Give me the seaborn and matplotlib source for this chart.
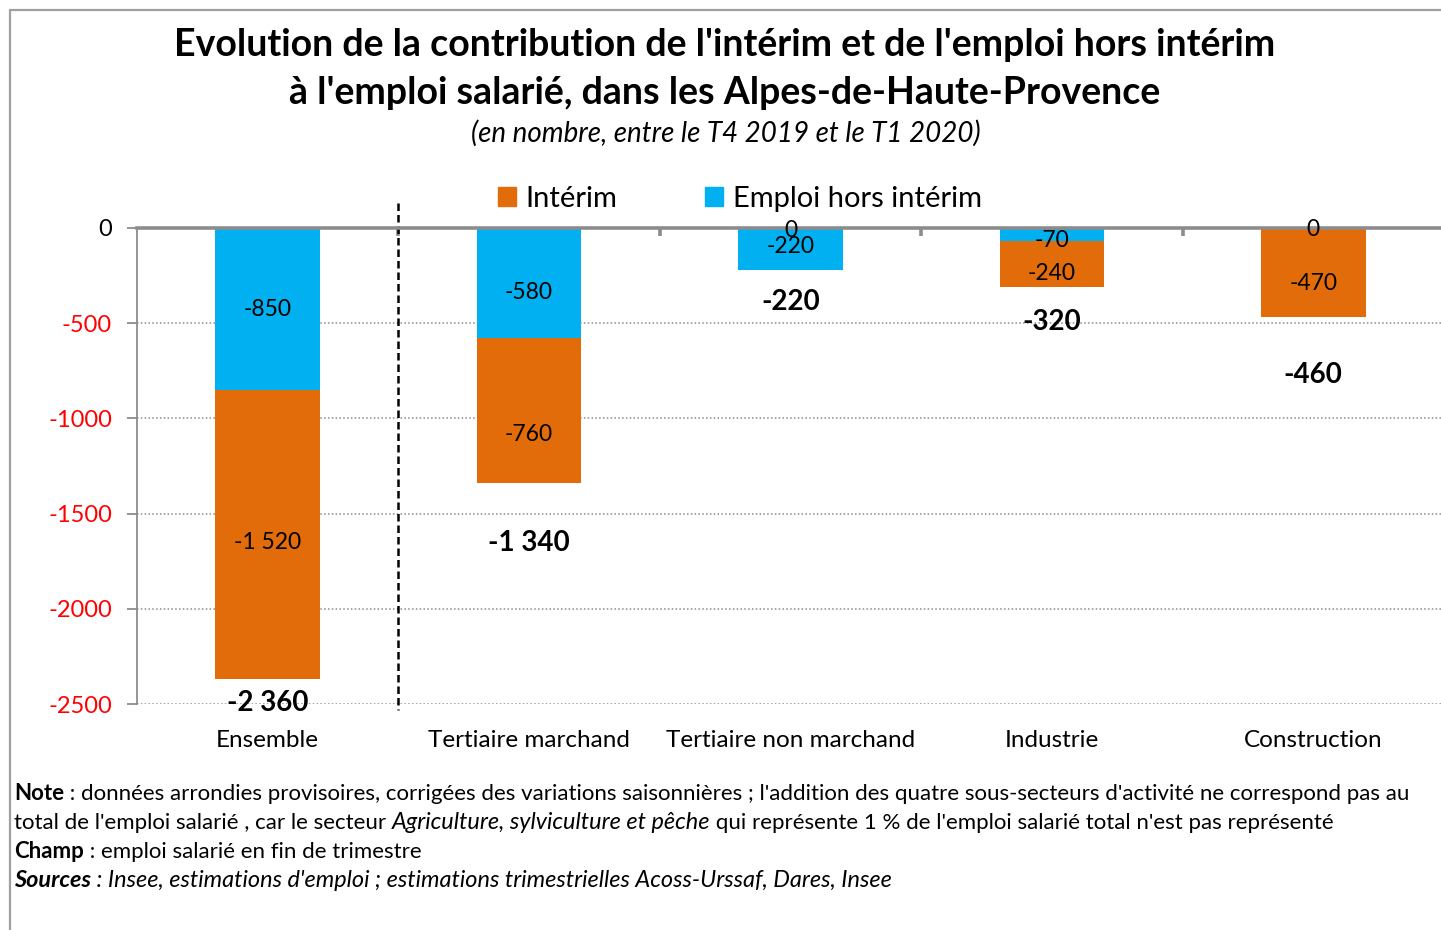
import numpy as np
import pandas as pd
import matplotlib.pyplot as plt
import seaborn as sns
from matplotlib.patches import Patch
from matplotlib.lines import Line2D

categories = ["Ensemble", "Tertiaire marchand", "Tertiaire non marchand", "Industrie", "Construction"]
interim = [-1520, -760, 0, -240, -470]
hors_interim = [-850, -580, -220, -70, 0]
totals = [-2360, -1340, -220, -320, -460]
y_ticks = [0, -500, -1000, -1500, -2000, -2500]

ORANGE = "#E36C0A"
BLUE = "#00B0F0"
GRAY = "#8C8C8C"

# label nudges in pixels (downward), as placed by hand in the original
hors_nudge = [1, 9, -2, 6, 1]
interim_nudge = [8, 24, -39, 9, 11]
total_nudge = [24, 60, 32, 35, 58]

W, H = 1441, 930


def fmt(v):
    return f"{v:,}".replace(",", " ")


sns.set_theme(style="white")
plt.rcParams["font.family"] = ["Lato", "DejaVu Sans"]
plt.rcParams["text.color"] = "black"

fig = plt.figure(figsize=(W / 100, H / 100), dpi=100)
ax = fig.add_axes([137 / W, 1 - 704 / H, (1444 - 137) / W, (704 - 228) / H])

df = pd.DataFrame({"secteur": categories, "interim": interim, "hors": hors_interim})
df["cumul"] = df["interim"] + df["hors"]

sns.barplot(data=df, x="secteur", y="cumul", color=ORANGE, saturation=1,
            width=0.4, linewidth=0, ax=ax)
sns.barplot(data=df, x="secteur", y="hors", color=BLUE, saturation=1,
            width=0.4, linewidth=0, ax=ax)

ax.set_xlim(-0.5, 4.5)
ax.set_ylim(-2500, 0)
ax.set_xlabel("")
ax.set_ylabel("")
ax.set_yticks(y_ticks)
ax.set_yticklabels([str(v) for v in y_ticks])
for lab, v in zip(ax.get_yticklabels(), y_ticks):
    lab.set_color("black" if v == 0 else "#FF0000")

ax.set_axisbelow(True)
ax.yaxis.grid(True, linestyle=(0, (1, 1.5)), color="#8C8C8C", linewidth=1.1)

for side in ["right", "bottom"]:
    ax.spines[side].set_visible(False)
ax.spines["top"].set_color(GRAY)
ax.spines["top"].set_linewidth(2.6)
ax.spines["left"].set_color(GRAY)
ax.spines["left"].set_linewidth(1.3)

ax.set_xticks([0.5, 1.5, 2.5, 3.5], minor=True)
ax.tick_params(axis="x", which="minor", top=True, bottom=False, direction="in",
               length=6, width=2.6, color=GRAY)
ax.tick_params(axis="x", which="major", bottom=True, top=False, length=0,
               pad=18.5, labelsize=17.5, labelcolor="black")
ax.tick_params(axis="y", left=True, length=7, width=1.3, color=GRAY,
               direction="out", pad=11, labelsize=17)

# value labels
for i in range(len(categories)):
    h = hors_interim[i]
    it = interim[i]
    ax.annotate(fmt(h), xy=(i, h / 2), xytext=(0, -hors_nudge[i] * 0.72),
                textcoords="offset points", ha="center", va="center", fontsize=16.5,
                color="black")
    ax.annotate(fmt(it), xy=(i, h + it / 2), xytext=(0, -interim_nudge[i] * 0.72),
                textcoords="offset points", ha="center", va="center", fontsize=16.5,
                color="black")
    ax.annotate(fmt(totals[i]), xy=(i, h + it), xytext=(0, -total_nudge[i] * 0.72),
                textcoords="offset points", ha="center", va="center", fontsize=20,
                fontweight="bold", color="black")

# separator between total and sectors
ax.plot([0.5, 0.5], [130, -2530], color="black", linestyle=(0, (3, 1.6)),
        linewidth=1.8, clip_on=False)

# titles
fig.text(725 / W, 1 - 45 / H, "Evolution de la contribution de l'intérim et de l'emploi hors intérim",
         ha="center", va="center", fontsize=27, fontweight="bold")
fig.text(725 / W, 1 - 93 / H, "à l'emploi salarié, dans les Alpes-de-Haute-Provence",
         ha="center", va="center", fontsize=27, fontweight="bold")
fig.text(726 / W, 1 - 133 / H, "(en nombre, entre le T4 2019 et le T1 2020)",
         ha="center", va="center", fontsize=20, fontstyle="italic")

handles = [Patch(color=ORANGE, label="Intérim"), Patch(color=BLUE, label="Emploi hors intérim")]
fig.legend(handles=handles, loc="center", bbox_to_anchor=(740 / W, 1 - 199 / H), ncol=2,
           frameon=False, fontsize=21, handlelength=0.6, handleheight=0.6,
           columnspacing=3.0, handletextpad=0.35)

# notes with mixed styles
notes = [
    [("Note", "bold", "normal"),
     (" : données arrondies provisoires, corrigées des variations saisonnières ; l'addition des quatre sous-secteurs d'activité ne correspond pas au", "normal", "normal")],
    [("total de l'emploi salarié , car le secteur ", "normal", "normal"),
     ("Agriculture, sylviculture et pêche", "normal", "italic"),
     (" qui représente 1 % de l'emploi salarié total n'est pas représenté", "normal", "normal")],
    [("Champ", "bold", "normal"), (" : emploi salarié en fin de trimestre", "normal", "normal")],
    [("Sources", "bold", "italic"),
     (" : Insee, estimations d'emploi ; estimations trimestrielles Acoss-Urssaf, Dares, Insee", "normal", "italic")],
]
fig.canvas.draw()
renderer = fig.canvas.get_renderer()
for k, line in enumerate(notes):
    x = 14 / W
    y = 1 - (800 + 29 * k) / H
    for txt, weight, style in line:
        size = 16.9 if style == "italic" else 16
        t = fig.text(x, y, txt, ha="left", va="baseline", fontsize=size,
                     fontweight=weight, fontstyle=style)
        bb = t.get_window_extent(renderer)
        x = bb.x1 / W

# outer frame
fig.add_artist(Line2D([10 / W, 1], [1 - 10 / H, 1 - 10 / H], color="#A0A0A0", linewidth=1.6))
fig.add_artist(Line2D([10 / W, 10 / W], [0, 1 - 10 / H], color="#A0A0A0", linewidth=1.6))

fig.savefig("out.png", dpi=100)
